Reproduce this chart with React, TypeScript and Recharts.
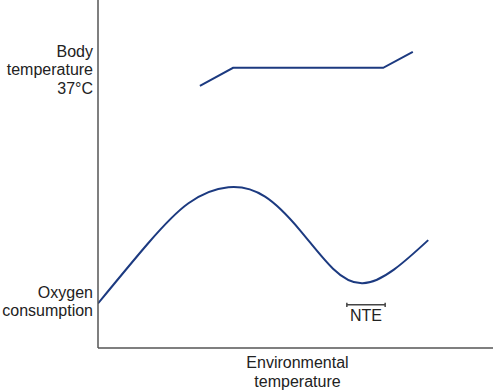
import React from 'react';
import {
  LineChart,
  Line,
  XAxis,
  YAxis,
  ReferenceLine,
  ReferenceDot,
  Label,
} from 'recharts';

// body temperature: ramps up, plateau at 37°C, then rises again
const bodyTempX = [25.8, 34.2, 72.2, 79.7];
const bodyTempY = [75.3, 80.5, 80.5, 85.1];

// oxygen consumption across environmental temperature
const oxygenX = [0, 12.7, 22.9, 33.0, 42.3, 51.1, 59.5, 67.0, 75.0, 83.6];
const oxygenY = [12.8, 30.1, 41.6, 46.2, 43.5, 33.9, 22.8, 18.6, 22.6, 31.0];

// thermoneutral zone bracket
const nteRange = [63.0, 72.7];
const nteLevel = 12.4;

// y-axis labels, one tick per label
const yTickValues = [13.4, 80];
const yTickLabels = [['Oxygen', 'consumption'], ['Body', 'temperature', '37°C']];
const xAxisLabel = ['Environmental', 'temperature'];

const bodyTemp = bodyTempX.map((x, i) => ({ x, y: bodyTempY[i] }));
const oxygen = oxygenX.map((x, i) => ({ x, y: oxygenY[i] }));

const LINE_COLOR = '#1c3a80';
const AXIS_COLOR = '#555';
const FONT = '"Liberation Sans", Arial, sans-serif';

const YTick = (props: any) => {
  const { x, y, payload } = props;
  const idx = yTickValues.indexOf(payload.value);
  const lines = yTickLabels[idx] || [];
  const lh = 18.5;
  const start = y - ((lines.length - 1) * lh) / 2;
  return (
    <g>
      {lines.map((t, i) => (
        <text
          key={t}
          x={x}
          y={start + i * lh}
          dy="0.36em"
          textAnchor="end"
          fontSize={16}
          fontFamily={FONT}
          fill="#222"
        >
          {t}
        </text>
      ))}
    </g>
  );
};

const XLabel = (props: any) => {
  const { viewBox } = props;
  const cx = viewBox.x + viewBox.width / 2 + 2;
  return (
    <g>
      {xAxisLabel.map((t, i) => (
        <text
          key={t}
          x={cx}
          y={viewBox.y + 14 + i * 19}
          dy="0.36em"
          textAnchor="middle"
          fontSize={16}
          fontFamily={FONT}
          fill="#222"
        >
          {t}
        </text>
      ))}
    </g>
  );
};

export default function App() {
  return (
    <div style={{ position: 'absolute', left: 0, top: 0, background: '#fff' }}>
      <LineChart
        width={493}
        height={390}
        margin={{ top: 0, right: 0, bottom: 0, left: 0 }}
      >
        <XAxis
          type="number"
          dataKey="x"
          domain={[0, 100]}
          allowDataOverflow
          height={42}
          tick={false}
          tickLine={false}
          axisLine={{ stroke: AXIS_COLOR, strokeWidth: 1.5 }}
        >
          <Label content={<XLabel />} />
        </XAxis>
        <YAxis
          type="number"
          dataKey="y"
          domain={[0, 100]}
          allowDataOverflow
          width={98}
          ticks={yTickValues}
          tick={<YTick />}
          tickLine={false}
          tickSize={0}
          tickMargin={5}
          interval={0}
          axisLine={{ stroke: AXIS_COLOR, strokeWidth: 1.5 }}
        />
        <Line
          data={bodyTemp}
          dataKey="y"
          type="linear"
          stroke={LINE_COLOR}
          strokeWidth={2}
          dot={false}
          activeDot={false}
          isAnimationActive={false}
        />
        <Line
          data={oxygen}
          dataKey="y"
          type="natural"
          stroke={LINE_COLOR}
          strokeWidth={2}
          dot={false}
          activeDot={false}
          isAnimationActive={false}
        />
        <ReferenceLine
          segment={[{ x: nteRange[0], y: nteLevel }, { x: nteRange[1], y: nteLevel }]}
          stroke="#444"
          strokeWidth={1.5}
        />
        {nteRange.map((v) => (
          <ReferenceLine
            key={v}
            segment={[{ x: v, y: nteLevel - 0.6 }, { x: v, y: nteLevel + 0.6 }]}
            stroke="#444"
            strokeWidth={1.5}
          />
        ))}
        <ReferenceDot
          x={(nteRange[0] + nteRange[1]) / 2}
          y={nteLevel}
          r={0}
          stroke="none"
          fill="none"
        >
          <Label
            value="NTE"
            position="bottom"
            offset={5}
            fontSize={16}
            fontFamily={FONT}
            fill="#222"
          />
        </ReferenceDot>
      </LineChart>
    </div>
  );
}
